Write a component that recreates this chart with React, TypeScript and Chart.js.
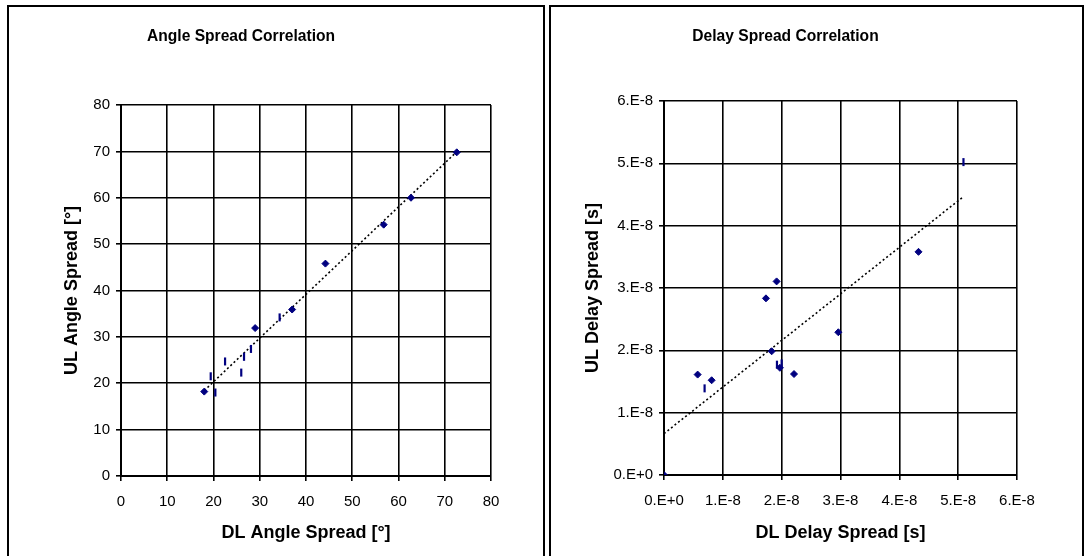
import React, { useEffect, useRef } from "react";
import { Chart, registerables } from "chart.js";
Chart.register(...registerables);

// ---- Angle spread data (degrees) ----
const angleDL = [18.0, 20.4, 19.4, 22.5, 26.0, 26.6, 28.1, 29.0, 34.3, 37.0, 44.2, 56.8, 62.7, 72.6];
const angleUL = [18.2, 18.0, 21.5, 24.7, 22.3, 25.7, 27.4, 31.9, 34.2, 35.9, 45.8, 54.2, 60.0, 69.8];
const angleMarks = ["d", "v", "v", "v", "v", "v", "v", "d", "v", "d", "d", "d", "d", "d"];
const angleTickValues = [0, 10, 20, 30, 40, 50, 60, 70, 80];

// ---- Delay spread data (seconds) ----
const delayDL = [0, 0.572e-8, 0.69e-8, 0.81e-8, 1.733e-8, 1.914e-8, 1.83e-8, 1.92e-8, 1.97e-8, 2.0e-8, 2.21e-8, 2.963e-8, 4.326e-8, 5.09e-8];
const delayUL = [0, 1.611e-8, 1.39e-8, 1.52e-8, 2.834e-8, 3.106e-8, 1.985e-8, 1.77e-8, 1.72e-8, 1.79e-8, 1.62e-8, 2.29e-8, 3.58e-8, 5.02e-8];
const delayMarks = ["d", "d", "v", "d", "d", "d", "d", "v", "d", "v", "d", "d", "d", "v"];
const delayTickLabels = ["0.E+0", "1.E-8", "2.E-8", "3.E-8", "4.E-8", "5.E-8", "6.E-8"];

const FONT = "'Liberation Sans', Arial, Helvetica, sans-serif";
const NAVY = "#000080";

function trend(xs: number[], ys: number[]) {
  const n = xs.length;
  const mx = xs.reduce((a, b) => a + b, 0) / n;
  const my = ys.reduce((a, b) => a + b, 0) / n;
  let sxy = 0, sxx = 0;
  for (let i = 0; i < n; i++) {
    sxy += (xs[i] - mx) * (ys[i] - my);
    sxx += (xs[i] - mx) * (xs[i] - mx);
  }
  const b = sxy / sxx;
  const a = my - b * mx;
  const x0 = Math.min(...xs), x1 = Math.max(...xs);
  return [{ x: x0, y: a + b * x0 }, { x: x1, y: a + b * x1 }];
}

type Cfg = {
  xs: number[]; ys: number[]; marks: string[];
  title: string; xTitle: string; yTitle: string;
  max: number; step: number;
  label: (v: number) => string;
  pad: { left: number; right: number };
  titlePad: { top: number; bottom: number };
  yWidth: number; xHeight: number;
  yTickPad: number; xTickPad: number;
  yTitlePad: number; xTitlePad: number;
};

function makeChart(canvas: HTMLCanvasElement, c: Cfg) {
  const pts = c.xs.map((x, i) => ({ x, y: c.ys[i] }));
  const axisCommon = (isX: boolean) => ({
    type: "linear" as const,
    min: 0,
    max: c.max,
    ticks: {
      stepSize: c.step,
      autoSkip: false,
      color: "#000",
      font: { family: FONT, size: 15 },
      padding: isX ? c.xTickPad : c.yTickPad,
      maxRotation: 0,
      callback: (v: number) => c.label(v),
    },
    grid: { color: "#000", lineWidth: 1.6, tickLength: 5, drawTicks: true, tickColor: "#000", tickWidth: 1.6 },
    border: { display: true, color: "#000", width: 2 },
    title: {
      display: true,
      text: isX ? c.xTitle : c.yTitle,
      color: "#000",
      font: { family: FONT, size: 18, weight: "bold" as const },
      padding: isX ? { top: 0, bottom: c.xTitlePad } : { top: c.yTitlePad, bottom: 0 },
    },
    afterFit: (s: any) => {
      if (isX) s.height = c.xHeight;
      else s.width = c.yWidth;
    },
  });
  return new Chart(canvas, {
    type: "scatter",
    data: {
      datasets: [
        {
          data: pts,
          pointStyle: c.marks.map((m) => (m === "d" ? "rectRot" : "line")) as any,
          rotation: c.marks.map((m) => (m === "d" ? 0 : 90)),
          pointRadius: c.marks.map((m) => (m === "d" ? 3.5 : 4)),
          borderWidth: c.marks.map((m) => (m === "d" ? 1 : 2.2)),
          backgroundColor: NAVY,
          borderColor: NAVY,
          showLine: false,
        },
        {
          data: trend(c.xs, c.ys),
          showLine: true,
          pointRadius: 0,
          borderColor: "#000",
          borderWidth: 1.6,
          borderDash: [2, 2.5],
          fill: false,
        },
      ],
    },
    options: {
      animation: false,
      responsive: false,
      maintainAspectRatio: false,
      layout: { padding: { left: c.pad.left, right: c.pad.right, top: 0, bottom: 0 } },
      plugins: {
        legend: { display: false },
        tooltip: { enabled: false },
        title: {
          display: true,
          text: c.title,
          color: "#000",
          font: { family: FONT, size: 15.6, weight: "bold" },
          padding: c.titlePad,
        },
      },
      scales: {
        x: { ...axisCommon(true), position: "bottom" },
        y: { ...axisCommon(false), position: "left" },
      } as any,
    },
  });
}

function Panel(props: { left: number; width: number; cfg: Cfg }) {
  const ref = useRef<HTMLCanvasElement>(null);
  useEffect(() => {
    if (!ref.current) return;
    const ch = makeChart(ref.current, props.cfg);
    return () => ch.destroy();
  }, []);
  const inner = props.width - 4;
  return (
    <div
      style={{
        position: "absolute",
        left: props.left,
        top: 5,
        width: props.width,
        height: 560,
        border: "2px solid #000",
        boxSizing: "border-box",
        background: "#fff",
      }}
    >
      <canvas ref={ref} width={inner} height={549} style={{ display: "block", width: inner, height: 549 }} />
    </div>
  );
}

const leftCfg: Cfg = {
  xs: angleDL, ys: angleUL, marks: angleMarks,
  title: "Angle Spread Correlation",
  xTitle: "DL Angle Spread [°]",
  yTitle: "UL Angle Spread [°]",
  max: angleTickValues[angleTickValues.length - 1],
  step: angleTickValues[1] - angleTickValues[0],
  label: (v) => String(Math.round(v)),
  pad: { left: -18, right: 52 },
  titlePad: { top: 20.6, bottom: 58.7 },
  yWidth: 130, xHeight: 80,
  yTickPad: 6, xTickPad: 11.5,
  yTitlePad: 70.2, xTitlePad: 12,
};

const rightCfg: Cfg = {
  xs: delayDL, ys: delayUL, marks: delayMarks,
  title: "Delay Spread Correlation",
  xTitle: "DL Delay Spread [s]",
  yTitle: "UL Delay Spread [s]",
  max: 6e-8,
  step: 1e-8,
  label: (v) => delayTickLabels[Math.round(v / 1e-8)] ?? "",
  pad: { left: 3, right: 65 },
  titlePad: { top: 20.6, bottom: 54.7 },
  yWidth: 110, xHeight: 81,
  yTickPad: 6, xTickPad: 11.5,
  yTitlePad: 28.2, xTitlePad: 12,
};

export default function App() {
  return (
    <div style={{ position: "fixed", left: 0, top: 0, width: 1090, height: 556, background: "#fff", overflow: "hidden" }}>
      <Panel left={7} width={538} cfg={leftCfg} />
      <Panel left={549} width={535} cfg={rightCfg} />
    </div>
  );
}
